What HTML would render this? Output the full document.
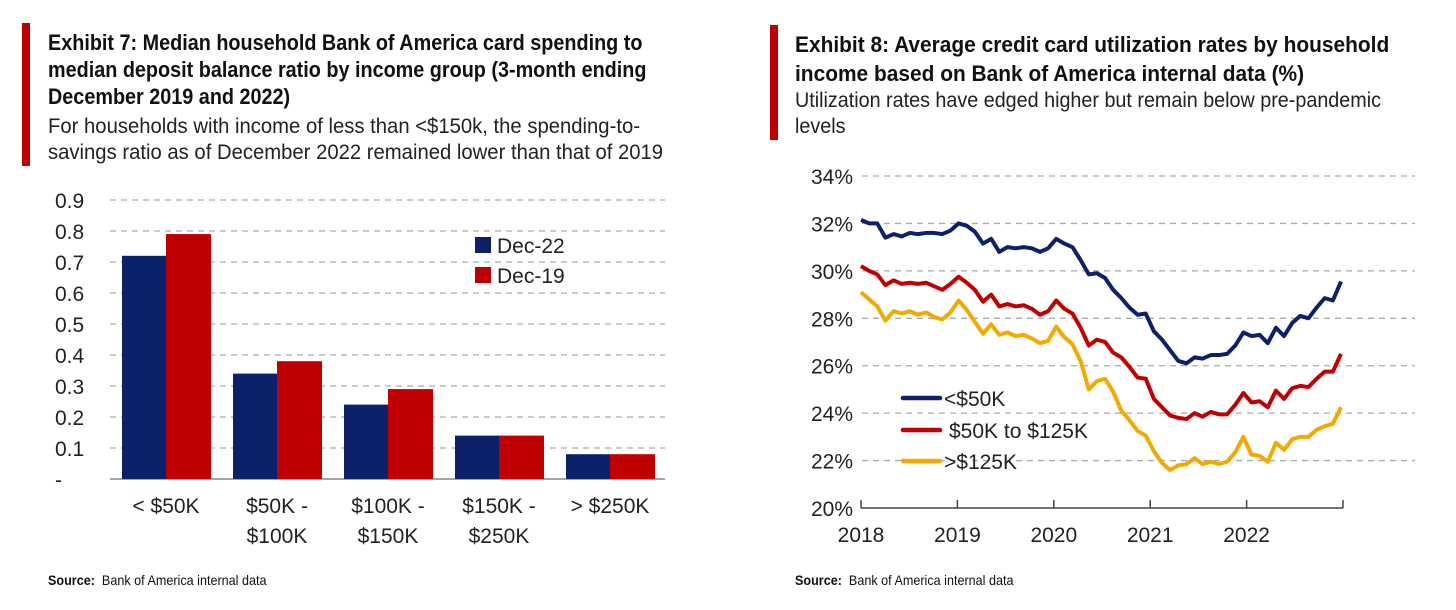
<!DOCTYPE html>
<html><head><meta charset="utf-8"><style>
body{margin:0;width:1456px;height:610px;background:#fff;overflow:hidden;font-family:"Liberation Sans Narrow","Liberation Sans",sans-serif;color:#111}
.t{position:absolute;font-weight:bold;font-size:22px;line-height:27px;white-space:nowrap;transform-origin:0 0}
.s{position:absolute;font-size:21px;line-height:26px;color:#222;white-space:nowrap;transform-origin:0 0}
.bar{position:absolute;background:#c00000;width:8px}
.src{position:absolute;font-size:14px;top:572px;transform-origin:0 0;transform:scaleX(0.9)}
svg{position:absolute;left:0;top:0}
svg text{font-family:"Liberation Sans Narrow","Liberation Sans",sans-serif}
</style></head><body>
<div class="bar" style="left:22px;top:23px;height:143px"></div>
<div class="t" style="left:48px;top:29px;transform:scaleX(0.9)">Exhibit 7: Median household Bank of America card spending to<br>median deposit balance ratio by income group (3-month ending<br>December 2019 and 2022)</div>
<div class="s" style="left:48px;top:114px;transform:scaleX(0.965)">For households with income of less than &lt;$150k, the spending-to-<br>savings ratio as of December 2022 remained lower than that of 2019</div>
<div class="src" style="left:48px"><b>Source:</b>&nbsp; Bank of America internal data</div>
<div class="bar" style="left:770px;top:25px;height:115px"></div>
<div class="t" style="left:795px;top:30px;line-height:29px;transform:scaleX(0.95)">Exhibit 8: Average credit card utilization rates by household<br>income based on Bank of America internal data (%)</div>
<div class="s" style="left:795px;top:88px;line-height:26px;transform:scaleX(0.94)">Utilization rates have edged higher but remain below pre-pandemic<br>levels</div>
<div class="src" style="left:795px"><b>Source:</b>&nbsp; Bank of America internal data</div>
<svg id="c" width="1456" height="610"></svg>
<script>
const barCats=[["< $50K"],["$50K -","$100K"],["$100K -","$150K"],["$150K -","$250K"],["> $250K"]];
const dec22=[0.72,0.34,0.24,0.14,0.08];
const dec19=[0.79,0.38,0.29,0.14,0.08];
const barTicks=["-","0.1","0.2","0.3","0.4","0.5","0.6","0.7","0.8","0.9"];
const years=["2018","2019","2020","2021","2022"];
const pctTicks=["20%","22%","24%","26%","28%","30%","32%","34%"];
const low=[32.15,32.0,32.0,31.4,31.55,31.45,31.6,31.55,31.6,31.6,31.55,31.7,32.0,31.9,31.65,31.15,31.35,30.8,31.0,30.95,31.0,30.95,30.8,30.95,31.35,31.15,31.0,30.45,29.85,29.9,29.7,29.2,28.85,28.45,28.15,28.2,27.45,27.1,26.65,26.2,26.1,26.35,26.3,26.45,26.45,26.5,26.85,27.4,27.25,27.3,26.95,27.6,27.25,27.8,28.1,28.0,28.45,28.85,28.75,29.55];
const mid=[30.2,30.0,29.85,29.4,29.6,29.45,29.5,29.45,29.5,29.35,29.2,29.45,29.75,29.5,29.2,28.7,29.0,28.5,28.6,28.5,28.55,28.4,28.15,28.3,28.75,28.4,28.2,27.6,26.85,27.1,27.0,26.55,26.35,25.95,25.5,25.45,24.6,24.25,23.9,23.8,23.75,24.0,23.85,24.05,23.95,23.95,24.35,24.85,24.45,24.5,24.25,24.95,24.6,25.05,25.15,25.1,25.45,25.75,25.75,26.5];
const high=[29.1,28.8,28.5,27.9,28.3,28.2,28.3,28.15,28.25,28.05,27.95,28.25,28.75,28.35,27.85,27.35,27.75,27.3,27.4,27.25,27.3,27.15,26.95,27.05,27.65,27.2,26.9,26.2,25.0,25.35,25.45,24.9,24.1,23.7,23.25,23.05,22.4,21.9,21.6,21.8,21.85,22.1,21.85,21.95,21.85,21.95,22.35,23.0,22.25,22.2,21.95,22.75,22.45,22.9,23.0,23.0,23.3,23.45,23.55,24.25];

const svg=document.getElementById('c');const NS='http://www.w3.org/2000/svg';
function mk(t,a,txt){const e=document.createElementNS(NS,t);for(const k in a)e.setAttribute(k,a[k]);if(txt!==undefined)e.textContent=txt;svg.appendChild(e);return e;}

// left chart
const by=v=>479-v*310;
const bx=i=>166+i*111;
barTicks.forEach((t,i)=>{
  const y=by(i*0.1);
  if(i>0){const g=mk('line',{x1:110,x2:665,y1:y,y2:y,stroke:'#aaa','stroke-width':1.3,'stroke-dasharray':'6 5'});
  
  }
  const l=mk('text',{x:55,y:y+8,'font-size':21,fill:'#222'},t);
  
  
});
mk('line',{x1:110,x2:665,y1:479,y2:479,stroke:'#888','stroke-width':1.5});
dec22.forEach((v,i)=>{
  const r=mk('rect',{x:bx(i)-44,y:by(v),width:44,height:479-by(v),fill:'#0c2169'});
  
  
  const r2=mk('rect',{x:bx(i),y:by(dec19[i]),width:45,height:479-by(dec19[i]),fill:'#c00000'});
  
  
  barCats[i].forEach((s,j)=>{
    const t=mk('text',{x:bx(i),y:513+j*30,'font-size':21,'text-anchor':'middle',fill:'#222'},s);
    
    
  });
});
[['#0c2169','Dec-22',245],['#c00000','Dec-19',275]].forEach(([c,s,y])=>{
  const r=mk('rect',{x:475,y:y-8,width:16,height:16,fill:c});
  
  
  const t=mk('text',{x:497,y:y+8,'font-size':21,fill:'#222'},s);
  
  
});

// right chart
const ry=v=>508-(v-20)*23.714;
const rx=i=>861+i*(480/59);
pctTicks.forEach((t,i)=>{
  const y=ry(20+i*2);
  if(i>0){const g=mk('line',{x1:862,x2:1415,y1:y,y2:y,stroke:'#aaa','stroke-width':1.3,'stroke-dasharray':'6 5'});
  
  }
  const l=mk('text',{x:853,y:y+8,'font-size':21,'text-anchor':'end',fill:'#222'},t);
  
  
});
mk('line',{x1:861,x2:1343,y1:508,y2:508,stroke:'#444','stroke-width':1.5});
for(let k=0;k<=5;k++){const x=861+k*96.4;mk('line',{x1:x,x2:x,y1:500,y2:508,stroke:'#444','stroke-width':1.5});
 if(k<5){const t=mk('text',{x:x,y:542,'font-size':21,'text-anchor':'middle',fill:'#222'},years[k]);
 
 }}
[[low,'#0c2169','line-under-50k'],[mid,'#c00000','line-50k-125k'],[high,'#f2a900','line-over-125k']].forEach(([d,c,n])=>{
  const p=mk('polyline',{points:d.map((v,i)=>rx(i)+','+ry(v)).join(' '),fill:'none',stroke:c,'stroke-width':4,'stroke-linejoin':'round'});
  
  
});
[['#0c2169','<$50K',398,944],['#c00000','$50K to $125K',430,949],['#f2a900','>$125K',461,944]].forEach(([c,s,y,tx])=>{
  const l=mk('line',{x1:903,x2:940,y1:y,y2:y,stroke:c,'stroke-width':4.5,'stroke-linecap':'round'});
  
  
  const t=mk('text',{x:tx,y:y+8,'font-size':21,fill:'#222'},s);
  
  
});
</script>
</body></html>
